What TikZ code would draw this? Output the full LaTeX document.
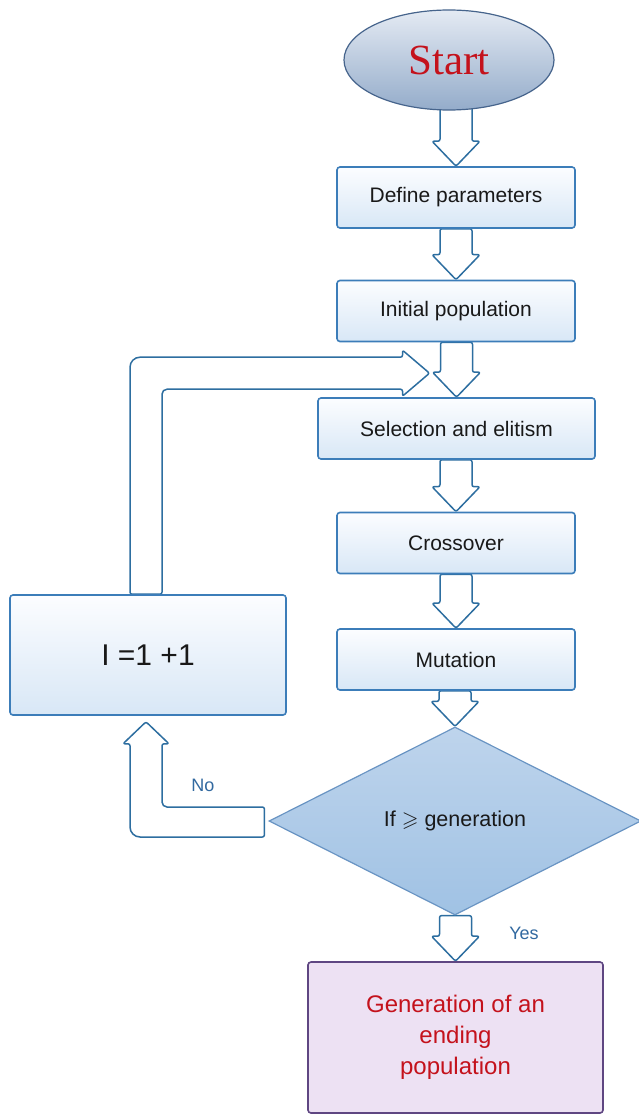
\documentclass[tikz,border=0pt]{standalone}
\usepackage{fontspec}
\usepackage{amssymb}
\setmainfont{Liberation Sans}
\newfontfamily\startfont{Liberation Serif}
\usetikzlibrary{shapes.geometric,calc,backgrounds}
\definecolor{boxline}{RGB}{60,125,185}
\definecolor{boxtop}{RGB}{252,253,255}
\definecolor{boxbot}{RGB}{216,231,246}
\definecolor{txt}{RGB}{25,25,25}
\definecolor{arrline}{RGB}{45,110,160}
\definecolor{elltop}{RGB}{228,234,243}
\definecolor{ellbot}{RGB}{148,172,202}
\definecolor{ellline}{RGB}{70,100,140}
\definecolor{diatop}{RGB}{190,212,236}
\definecolor{diabot}{RGB}{160,194,228}
\definecolor{dialine}{RGB}{105,148,195}
\definecolor{endfill}{RGB}{237,225,243}
\definecolor{endline}{RGB}{95,70,130}
\definecolor{redtxt}{RGB}{196,18,28}
\definecolor{lbl}{RGB}{50,105,160}
\newcommand\downblock[2]{%
  \draw[harrow] let \p1=(#1.south), \p2=(#2.north) in
    (\x2-16pt,\y1) -- (\x2-16pt,\y2+25pt) -- (\x2-24pt,\y2+25pt) -- (\x2,\y2)
    -- (\x2+24pt,\y2+25pt) -- (\x2+16pt,\y2+25pt) -- (\x2+16pt,\y1) -- cycle;}
\begin{document}
\begin{tikzpicture}[x=1pt,y=-1pt,
  stepbox/.style={rectangle, rounded corners=3pt, draw=boxline, line width=1.6pt,
    top color=boxtop, bottom color=boxbot, text=txt,
    font=\fontsize{21}{25}\selectfont, minimum width=238pt, minimum height=61pt, inner sep=0pt},
  harrow/.style={draw=arrline, line width=1.5pt, fill=white, line join=round, rounded corners=2pt},
  startnode/.style={ellipse, draw=ellline, line width=1.2pt, top color=elltop, bottom color=ellbot,
    minimum width=210pt, minimum height=100pt, inner sep=0pt, text=redtxt,
    font=\startfont\fontsize{43}{46}\selectfont},
  decision/.style={diamond, aspect=2, draw=dialine, line width=1.2pt, top color=diatop, bottom color=diabot,
    minimum width=372pt, minimum height=188pt, inner sep=0pt, text=txt, font=\fontsize{21.5}{25}\selectfont},
  endbox/.style={rectangle, rounded corners=3pt, draw=endline, line width=1.6pt, fill=endfill,
    minimum width=295pt, minimum height=151pt, inner sep=0pt, text=redtxt, align=center,
    font=\fontsize{24}{31}\selectfont},
  lbltext/.style={text=lbl, font=\fontsize{18}{20}\selectfont, inner sep=0pt}
]
\useasboundingbox (0,0) rectangle (639,1115);

\node[startnode] (start) at (449,60) {Start};
\node[stepbox] (def) at (456,197.5) {Define parameters};
\node[stepbox] (init) at (456,311) {Initial population};
\node[stepbox, minimum width=277pt] (sel) at (456.5,428.5) {Selection and elitism};
\node[stepbox] (cross) at (456,543) {Crossover};
\node[stepbox] (mut) at (456,659.5) {Mutation};
\node[decision] (dec) at (455,821) {If $\geqslant$ generation};
\node[stepbox, minimum width=276pt, minimum height=120pt, font=\fontsize{30}{33}\selectfont] (inc) at (148,655) {I =1 +1};
\node[endbox] (end) at (455.5,1037.5) {Generation of an\\ending\\population};

\node[lbltext] (no) at (203,785) {No};
\node[lbltext] (yes) at (524,933) {Yes};

\begin{pgfonlayer}{background}
  \fill[white] (0,0) rectangle (639,1115);
  \draw[harrow] let \p1=(start.south), \p2=(def.north) in
    (\x2-16pt,\y1+4pt) -- (\x2-16pt,\y2+25pt) -- (\x2-24pt,\y2+25pt) -- (\x2,\y2)
    -- (\x2+24pt,\y2+25pt) -- (\x2+16pt,\y2+25pt) -- (\x2+16pt,\y1+4pt) -- cycle;
  \downblock{def}{init}
  \downblock{init}{sel}
  \downblock{sel}{cross}
  \downblock{cross}{mut}
  \downblock{mut}{dec}
  \downblock{dec}{end}
  % loop back arrow
  \draw[harrow] let \p1=(inc.north), \p2=(sel.north) in
    (\x1-18pt,\y1) [rounded corners=10pt] -- (\x1-18pt,\y2+40pt)
    [rounded corners=2pt] -- (\x2-54pt,\y2+40pt) -- (\x2-54pt,\y2+47pt)
    -- (\x2-27pt,\y2+24pt) -- (\x2-54pt,\y2+1pt) -- (\x2-54pt,\y2+8pt)
    [rounded corners=5pt] -- (\x1+14pt,\y2+8pt) [rounded corners=2pt] -- (\x1+14pt,\y1) -- cycle;
  % No arrow
  \draw[harrow] let \p1=(dec.west), \p2=(inc.south) in
    (\x1-4pt,\y1-16pt) [rounded corners=10pt] -- (\x2-18pt,\y1-16pt)
    [rounded corners=2pt] -- (\x2-18pt,\y2-28pt) -- (\x2-25pt,\y2-28pt)
    -- (\x2-2pt,\y2-6pt) -- (\x2+21pt,\y2-28pt) -- (\x2+14pt,\y2-28pt)
    [rounded corners=5pt] -- (\x2+14pt,\y1+14pt) [rounded corners=2pt] -- (\x1-4pt,\y1+14pt) -- cycle;
\end{pgfonlayer}
\end{tikzpicture}
\end{document}
